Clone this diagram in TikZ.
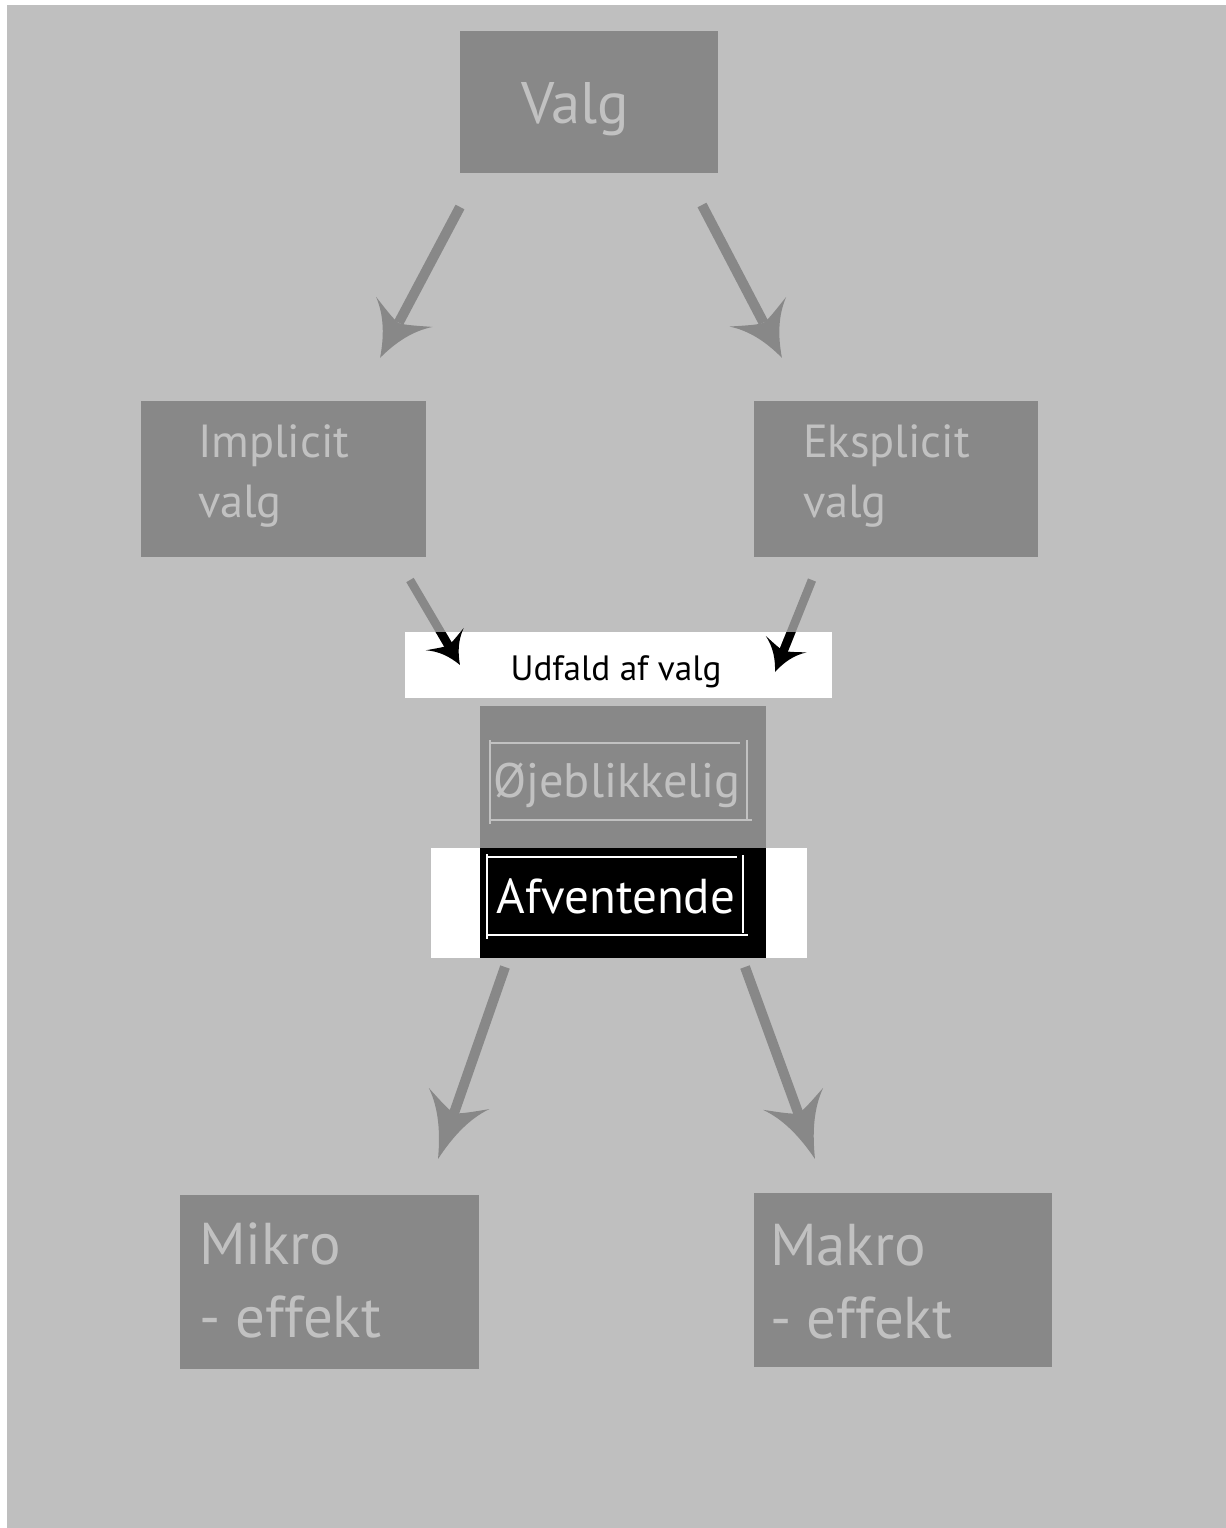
\documentclass[tikz,border=0pt]{standalone}
\usepackage{fontspec}
\setmainfont{PT Sans}
\usetikzlibrary{decorations.markings}

\definecolor{canvasgray}{HTML}{BFBFBF}
\definecolor{boxgray}{HTML}{888888}
\definecolor{boxtext}{HTML}{C1C1C1}

% curved barbed arrow head, tip at the origin, pointing along +x
% #1 colour, #2 length, #3 half width
\newcommand\barbhead[3]{%
  \fill[#1] (0,0)
    .. controls ({-0.4*#2},{0.2*#3}) and ({-0.75*#2},{0.5*#3}) .. ({-#2},{#3})
    .. controls ({-0.85*#2},{0.45*#3}) and ({-0.78*#2},{0.2*#3}) .. ({-0.76*#2},0)
    .. controls ({-0.78*#2},{-0.2*#3}) and ({-0.85*#2},{-0.45*#3}) .. ({-#2},{-#3})
    .. controls ({-0.75*#2},{-0.5*#3}) and ({-0.4*#2},{-0.2*#3}) .. cycle;}

\tikzset{
  box/.style={rectangle, inner sep=0pt, outer sep=0pt, fill=boxgray},
  whitebox/.style={rectangle, inner sep=0pt, outer sep=0pt, fill=white},
  blackbox/.style={rectangle, inner sep=0pt, outer sep=0pt, fill=black},
  boxlabel/.style={inner sep=0pt, outer sep=0pt, text=boxtext, align=left},
  headat/.style n args={3}{postaction={decorate, decoration={markings,
      mark=at position 1 with {\barbhead{#1}{#2}{#3}}}}},
  bigarrow/.style={draw=boxgray, line width=5pt, shorten >=20pt,
      headat={boxgray}{#1}{16pt}},
  smallshaft/.style={draw=#1, line width=4.3pt, shorten >=10pt},
  framegray/.style={draw=boxtext, line width=0.8pt},
  framewhite/.style={draw=white, line width=0.8pt},
}

\begin{document}
\begin{tikzpicture}[x=0.5pt, y=-0.5pt]
\useasboundingbox (0,0) rectangle (1226,1528);
\fill[white] (0,0) rectangle (1226,1528);
\fill[canvasgray] (7,5) rectangle (1226,1528);

% boxes
\node[box, minimum width=129pt, minimum height=71pt] (valg) at (589,102) {};
\node[box, minimum width=142.5pt, minimum height=78pt] (implicit) at (283.5,479) {};
\node[box, minimum width=142pt, minimum height=78pt] (eksplicit) at (896,479) {};
\node[whitebox, minimum width=213.5pt, minimum height=33pt] (udfald) at (618.5,665) {};
\node[box, minimum width=143pt, minimum height=71pt] (ojeblik) at (623,777) {};
\node[whitebox, minimum width=188pt, minimum height=55pt] (afvwhite) at (619,903) {};
\node[blackbox, minimum width=143pt, minimum height=55pt] (afventende) at (623,903) {};
\node[box, minimum width=149.5pt, minimum height=87pt] (mikro) at (329.5,1282) {};
\node[box, minimum width=149pt, minimum height=87pt] (makro) at (903,1280) {};

% texts (multi-line labels are anchored at the baseline of their last line)
\node[boxlabel, anchor=base, font=\fontsize{29.3pt}{35pt}\selectfont] (valgtxt) at (575,123) {Valg};
\node[boxlabel, anchor=base west, font=\fontsize{23.2pt}{30pt}\selectfont] (implicittxt) at (198,517) {Implicit\\valg};
\node[boxlabel, anchor=base west, font=\fontsize{23.2pt}{30pt}\selectfont] (eksplicittxt) at (803,517) {Eksplicit\\valg};
\node[inner sep=0pt, anchor=base, text=black, font=\fontsize{17.6pt}{20pt}\selectfont] (udfaldtxt) at (616,680) {Udfald af valg};
\node[boxlabel, anchor=base, font=\fontsize{24.2pt}{28pt}\selectfont] (ojebliktxt) at (617,797) {Øjeblikkelig};
\node[inner sep=0pt, anchor=base, text=white, font=\fontsize{24.5pt}{27pt}\selectfont] (afvtxt) at (616,913) {Afventende};
\node[boxlabel, anchor=base west, font=\fontsize{29.5pt}{36.5pt}\selectfont] (mikrotxt) at (199,1337) {Mikro\\- effekt};
\node[boxlabel, anchor=base west, font=\fontsize{29.5pt}{36.5pt}\selectfont] (makrotxt) at (770,1338) {Makro\\- effekt};

% text frames
\draw[framegray] (490,743) -- (740,743);
\draw[framegray] (490,740) -- (490,824);
\draw[framegray] (747,740) -- (747,820);
\draw[framegray] (490,820) -- (752,820);
\draw[framewhite] (487,857) -- (737,857);
\draw[framewhite] (487,854) -- (487,939);
\draw[framewhite] (743,855) -- (743,933);
\draw[framewhite] (487,935) -- (748,935);

% arrow end points
\coordinate (a1s) at (460,207); \coordinate (a1t) at (380,358);
\coordinate (a2s) at (702,205); \coordinate (a2t) at (782,358);
\coordinate (a3s) at (410,580); \coordinate (a3t) at (460,665);
\coordinate (a4s) at (812,580); \coordinate (a4t) at (775,672);
\coordinate (a5s) at (505,967); \coordinate (a5t) at (438,1159);
\coordinate (a6s) at (745,967); \coordinate (a6t) at (815,1159);

% large grey arrows
\draw[bigarrow=26pt] (a1s) -- (a1t);
\draw[bigarrow=26pt] (a2s) -- (a2t);
\draw[bigarrow=32pt] (a5s) -- (a5t);
\draw[bigarrow=32pt] (a6s) -- (a6t);

% arrows into the outcome box: grey shaft, black where it crosses the white box
\draw[smallshaft=boxgray, headat={black}{15pt}{11pt}] (a3s) -- (a3t);
\draw[smallshaft=boxgray, headat={black}{15pt}{11pt}] (a4s) -- (a4t);
\begin{scope}
  \clip (udfald.south west) rectangle (udfald.north east);
  \draw[smallshaft=black] (a3s) -- (a3t);
  \draw[smallshaft=black] (a4s) -- (a4t);
\end{scope}
\end{tikzpicture}
\end{document}
